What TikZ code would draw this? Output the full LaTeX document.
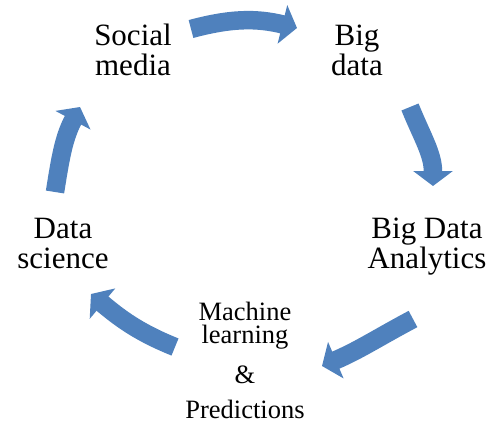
\documentclass[tikz,border=0pt]{standalone}
\usepackage{fontspec}
\setmainfont{Liberation Serif}
\usetikzlibrary{arrows.meta}
\definecolor{cycleblue}{HTML}{4F81BD}
\begin{document}
\begin{tikzpicture}[x=1pt,y=1pt,
  stage/.style={align=center, anchor=base, inner sep=0pt,
    font=\fontsize{31}{30}\selectfont},
  note/.style={align=center, anchor=base, inner sep=0pt,
    font=\fontsize{26.5}{23}\selectfont},
  flow/.style={draw=cycleblue, line width=18.5pt,
    -{Triangle[width=39pt,length=15pt]}}]
\useasboundingbox (0,0) rectangle (494,-420);

% stages of the cycle (positioned by the baseline of their last line)
\node[stage] (social)    at (133,-75)  {Social\\media};
\node[stage] (bigdata)   at (357,-75)  {Big\\data};
\node[stage] (analytics) at (427,-268) {Big Data\\Analytics};
\node[stage] (science)   at (63,-268)  {Data\\science};
\node[note]  (ml)        at (245,-418) {Machine\\learning\\[15pt]\&\\[12pt]Predictions};

% ends of the curved arrows between the stages
\coordinate (s1) at (191,-29);  \coordinate (e1) at (297,-28);
\coordinate (s2) at (410,-107); \coordinate (e2) at (433,-186);
\coordinate (s3) at (413,-319); \coordinate (e3) at (322,-366);
\coordinate (s4) at (175,-347); \coordinate (e4) at (91,-294);
\coordinate (s5) at (55,-192);  \coordinate (e5) at (80,-107);

\draw[flow] (s1) to[out=15,in=166]   (e1);
\draw[flow] (s2) to[out=-68,in=90]   (e2);
\draw[flow] (s3) to[out=208,in=23]   (e3);
\draw[flow] (s4) to[out=158,in=-40]  (e4);
\draw[flow] (s5) to[out=81,in=-118]  (e5);
\end{tikzpicture}
\end{document}
